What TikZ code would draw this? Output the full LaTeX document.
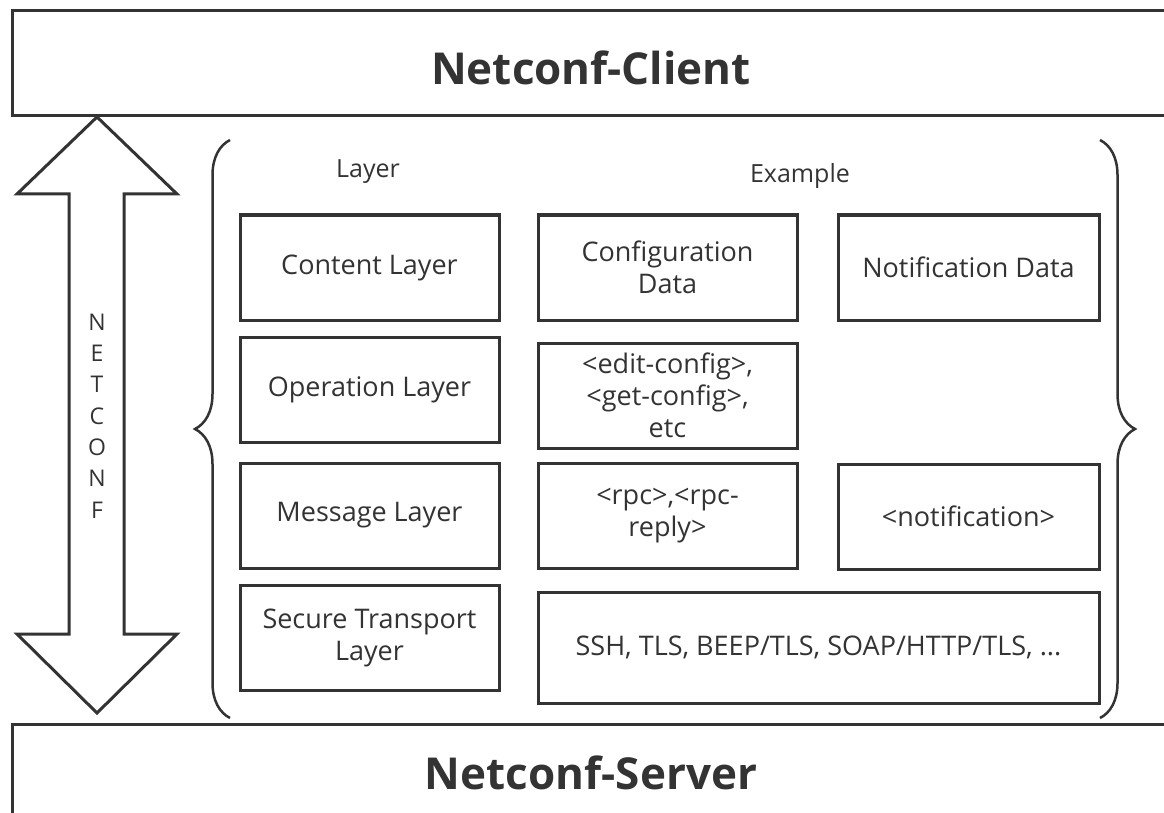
\documentclass[tikz,border=0pt]{standalone}
\usepackage{fontspec}
\setmainfont{Open Sans}
\usetikzlibrary{decorations.pathreplacing}

\definecolor{ink}{HTML}{333333}

\begin{document}
\begin{tikzpicture}[x=1pt,y=-1pt,line width=3pt,ink,
  every node/.style={text=ink,font=\fontsize{27}{32}\selectfont},
  layerbox/.style={draw,minimum width=259pt,minimum height=105pt,align=center,inner sep=0pt},
  endbox/.style={font=\fontsize{44}{50}\selectfont\bfseries},
  headtext/.style={font=\fontsize{25}{30}\selectfont},
  curly/.style={decorate,decoration={brace,amplitude=35pt},line width=2.5pt}]
\useasboundingbox (0,0) rectangle (1164,813);

% client and server bars
\draw (1180,11) -- (12,11) -- (12,116) -- (1180,116);
\node[endbox] (client) at (591,68) {Netconf-Client};
\draw (1180,724) -- (12,724) -- (12,814.5) -- (1180,814.5);
\node[endbox] (server) at (591,773) {Netconf-Server};

% double arrow between them
\draw[line join=miter] (97,117) -- (177,194) -- (124,194) -- (124,634) -- (177,634)
  -- (97,713) -- (17,634) -- (69,634) -- (69,194) -- (17,194) -- cycle;
\node[align=center,font=\fontsize{23}{31.3}\selectfont] (netconf) at (97,416)
  {N\\E\\T\\C\\O\\N\\F};

% braces
\draw[curly] (230,718) -- (230,140);
\draw[curly] (1100,140) -- (1100,718);

% headers
\node[headtext] (hlayer) at (368,172) {Layer};
\node[headtext] (hexample) at (800,176) {Example};

% layer column
\node[layerbox] (content) at (369.5,267.5) {Content Layer};
\node[layerbox] (operation) at (369.5,390) {Operation Layer};
\node[layerbox] (message) at (369.5,515.5) {Message Layer};
\node[layerbox] (transport) at (369.5,637.5) {Secure Transport\\Layer};

% examples
\node[layerbox] (confdata) at (667.5,267.5) {Configuration\\Data};
\node[layerbox] (editconf) at (667.5,395.5) {<edit-config>,\\<get-config>,\\etc};
\node[layerbox] (rpc) at (667.5,516) {<rpc>,<rpc-\\reply>};
\node[layerbox,minimum width=261pt] (notifdata) at (968.5,267.5) {Notification Data};
\node[layerbox,minimum width=261pt] (notif) at (968.5,516.5) {<notification>};
\node[layerbox,minimum width=561pt,minimum height=111pt] (transports) at (818.5,647.5)
  {SSH, TLS, BEEP/TLS, SOAP/HTTP/TLS, ...};
\end{tikzpicture}
\end{document}
